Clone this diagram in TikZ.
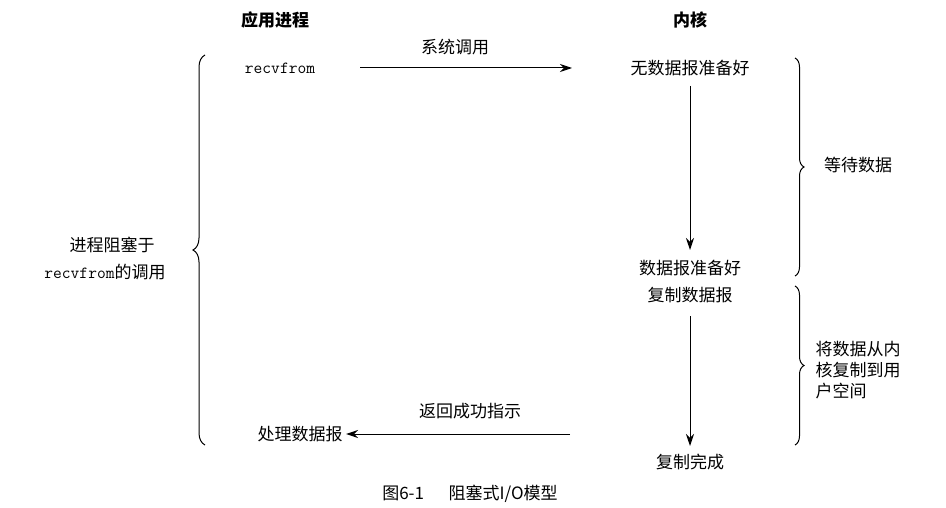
\documentclass[tikz,border=0pt]{standalone}
\usepackage{fontspec}
\setmainfont{Liberation Serif}
\newfontfamily\cjk{Noto Sans CJK SC}
\usetikzlibrary{decorations.pathreplacing,arrows.meta}
\begin{document}
\begin{tikzpicture}[x=1pt,y=-1pt,
  lbl/.style={font=\cjk\fontsize{17}{21}\selectfont},
  hd/.style={font=\cjk\bfseries\fontsize{17}{21}\selectfont},
  arr/.style={-{Stealth[length=12pt,width=8pt]},line width=1pt},
  br/.style={decorate,decoration={brace,amplitude=9pt},line width=1pt}]
\useasboundingbox[fill=white] (0,0) rectangle (946,508);
\node[hd] (h1) at (275,20) {应用进程};
\node[hd] (h2) at (690,20) {内核};
\node[font=\ttfamily\fontsize{17}{21}\selectfont] (rf) at (280,68) {recvfrom};
\node[lbl] (sys) at (455,47) {系统调用};
\node[lbl] (k1) at (690,68) {无数据报准备好};
\node[lbl] (k2) at (690,268) {数据报准备好};
\node[lbl] (k3) at (690,295) {复制数据报};
\node[lbl] (k4) at (690,462) {复制完成};
\node[lbl] (ret) at (470,411) {返回成功指示};
\node[lbl] (proc) at (300,434) {处理数据报};
\coordinate (a1s) at (360,68); \coordinate (a1e) at (572,68);
\draw[arr] (a1s) -- (a1e);
\coordinate (v1s) at (690,86); \coordinate (v1e) at (690,250);
\draw[arr] (v1s) -- (v1e);
\coordinate (v2s) at (690,316); \coordinate (v2e) at (690,446);
\draw[arr] (v2s) -- (v2e);
\coordinate (a2s) at (570,434);
\draw[arr] (a2s) -- (proc.east);
\coordinate (lb1) at (205,445); \coordinate (lb2) at (205,55);
\draw[br,decoration={amplitude=12pt}] (lb1) -- (lb2);
\node[lbl] (blk1) at (112,245) {进程阻塞于};
\node[font=\fontsize{17}{21}\selectfont] (blk2) at (105,272) {\ttfamily recvfrom\cjk 的调用};
\coordinate (rb1) at (795,58); \coordinate (rb2) at (795,276);
\draw[br] (rb1) -- (rb2);
\node[lbl] (wait) at (858,165) {等待数据};
\coordinate (rb3) at (795,286); \coordinate (rb4) at (795,445);
\draw[br] (rb3) -- (rb4);
\node[lbl,align=left] (copy) at (858,370) {将数据从内\\核复制到用\\户空间};
\node[lbl] (cap) at (470,494) {图6-1\quad\ \ 阻塞式I/O模型};
\end{tikzpicture}
\end{document}
